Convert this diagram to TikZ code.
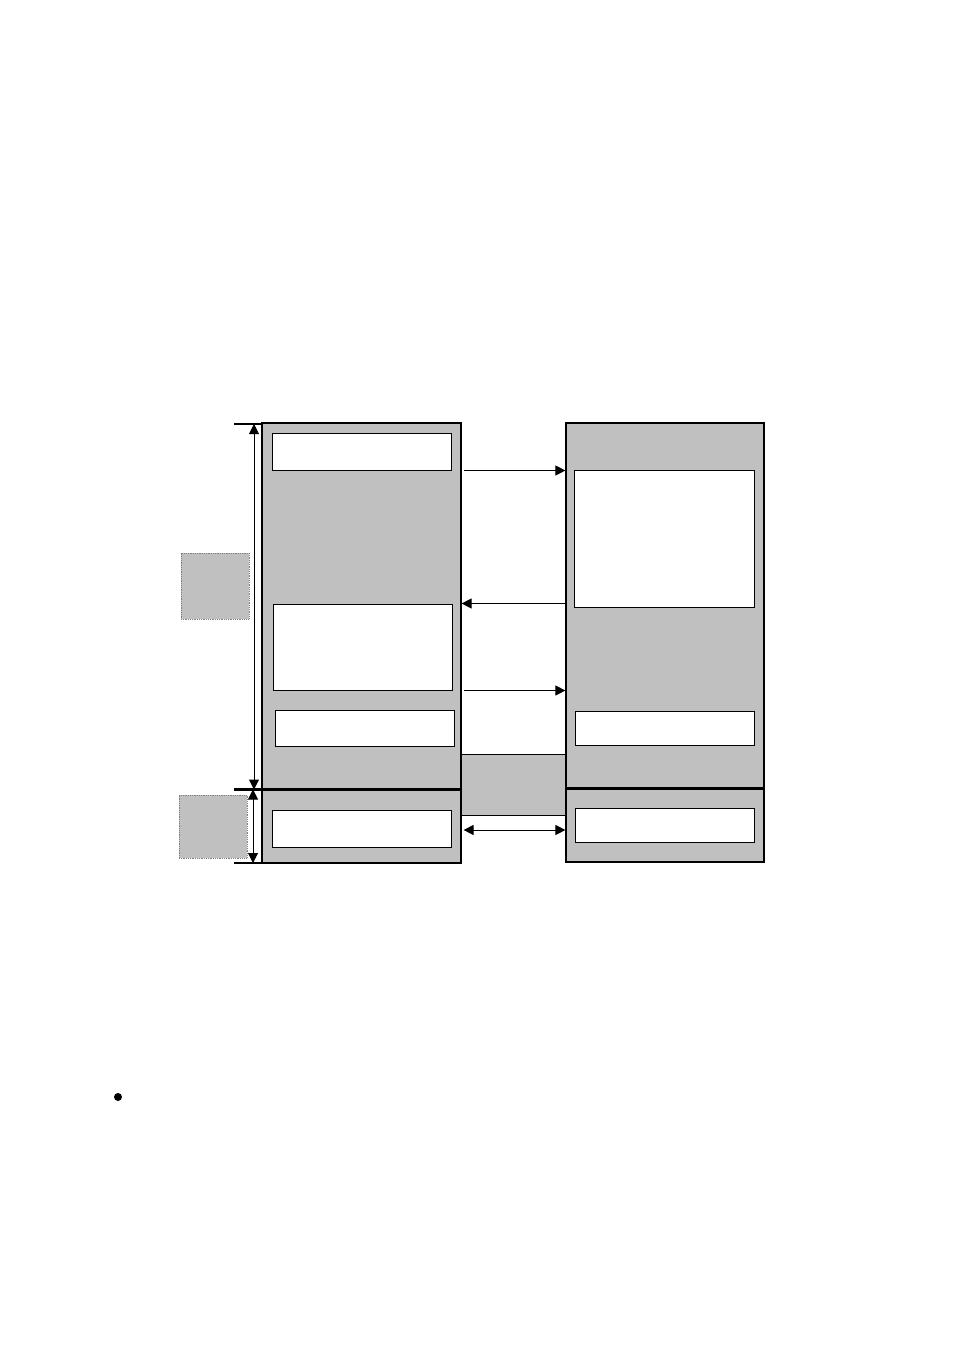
\documentclass[tikz,border=0pt]{standalone}
\usetikzlibrary{arrows.meta}
\definecolor{panel}{RGB}{192,192,192}
\begin{document}
\begin{tikzpicture}[x=1pt, y=-1pt,
		column/.style = {draw, fill=panel, line width=1.2pt, inner sep=0pt},
		field/.style  = {draw, fill=white, line width=1pt, inner sep=0pt},
		tag/.style    = {draw=gray, fill=panel, densely dotted, line width=0.8pt, inner sep=0pt},
		conn/.style   = {line width=1pt, -{Triangle[length=10pt, width=10pt]}},
		dim/.style    = {line width=1pt, {Triangle[length=10pt, width=10pt]}-{Triangle[length=10pt, width=10pt]}},
		tick/.style   = {line width=2.4pt}]
	% page frame
	\useasboundingbox (0,0) rectangle (954,1351);
	% link between the two columns
	\node[draw, fill=panel, line width=1pt, inner sep=0pt, minimum width=105pt, minimum height=61pt] (link) at (513.5,784.5) {};
	% columns
	\node[column, minimum width=199pt, minimum height=440pt] (lcol) at (361.5,643) {};
	\node[column, minimum width=198pt, minimum height=439pt] (rcol) at (665,642.5) {};
	% fields: name / x / y / width / height
	\foreach \name/\x/\y/\w/\h in {lbox1/361.5/451.5/179/37,
								  lbox2/362.5/647/179/86,
								  lbox3/364.5/728/179/36,
								  lbox4/361.5/828.5/179/37,
								  rbox1/664/538.5/180/137,
								  rbox2/664.5/728/179/34,
								  rbox3/664.5/825/179/34}
	{
		\node[field, minimum width=\w pt, minimum height=\h pt] (\name) at (\x,\y) {};
	}
	% side tags
	\node[tag, minimum width=68pt, minimum height=66pt] (tag1) at (215,586) {};
	\node[tag, minimum width=68pt, minimum height=63pt] (tag2) at (213,826.5) {};
	% split lines
	\coordinate (lsplit) at (262,789.5);
	\coordinate (rsplit) at (566,788.5);
	\draw[tick] (lsplit) -- (lsplit -| link.west);
	\draw[tick] (rsplit) -- (rsplit -| rcol.east);
	% dimension marks
	\coordinate (dtop) at (254,424);
	\coordinate (dmid) at (254,789.5);
	\coordinate (dbot) at (253,863);
	\draw[tick] (234,424) -- (dtop -| lcol.west);
	\draw[tick] (234,789.5) -- (lsplit);
	\draw[tick] (234,863) -- (dbot -| lcol.west);
	\draw[dim] (dtop) -- (dmid);
	\draw[dim] (dmid -| dbot) -- (dbot);
	% connectors
	\draw[conn, shorten <=2pt] (lcol.east |- lbox1.south) -- (rcol.west |- lbox1.south);
	\draw[conn] (rcol.west |- lbox2.north) -- (lcol.east |- lbox2.north);
	\draw[conn, shorten <=2pt] (lcol.east |- lbox2.south) -- (rcol.west |- lbox2.south);
	\draw[dim, shorten <=2pt] (lcol.east |- 0,830) -- (rcol.west |- 0,830);
	% bullet
	\fill (118,1097) circle (4pt);
\end{tikzpicture}
\end{document}
